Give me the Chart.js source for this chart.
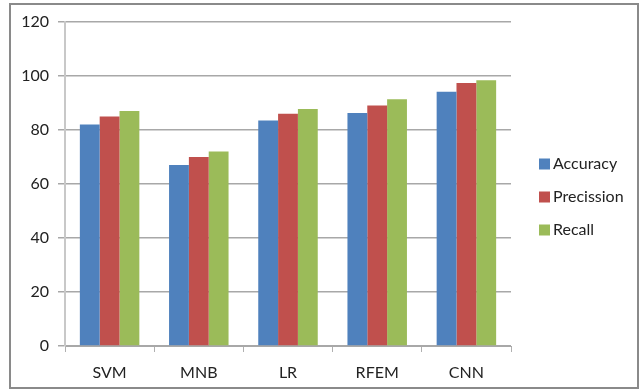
<!DOCTYPE html>
<html>
<head>
<meta charset="utf-8">
<script src="https://cdn.jsdelivr.net/npm/chart.js@4/dist/chart.umd.min.js"></script>
<style>
  html, body { margin: 0; padding: 0; background: #fff; }
  #wrap { width: 642px; height: 391px; position: relative; }
</style>
</head>
<body>
<div id="wrap"><canvas id="c" width="642" height="391"></canvas></div>
<script>
// Classifier comparison: accuracy, precision and recall (%)
const categories = ['SVM', 'MNB', 'LR', 'RFEM', 'CNN'];
const accuracy   = [82, 67, 83.5, 86.3, 94.2];
const precission = [85, 70, 86, 89.1, 97.4];
const recall     = [87, 72, 87.8, 91.4, 98.4];
const seriesNames = ['Accuracy', 'Precission', 'Recall'];
const yTicks = [0, 20, 40, 60, 80, 100, 120];

const colors = ['#4F81BD', '#C0504D', '#9BBB59'];
const FONT = 'Lato, "Open Sans", sans-serif';
const TEXT = '#222';

// Outer frame around the whole chart
const framePlugin = {
  id: 'frame',
  beforeDraw(chart) {
    const ctx = chart.ctx;
    ctx.save();
    ctx.fillStyle = '#fff';
    ctx.fillRect(0, 0, chart.width, chart.height);
    ctx.strokeStyle = '#8a8a8a';
    ctx.lineWidth = 2;
    ctx.strokeRect(10, 4, 628, 384);
    ctx.restore();
  }
};

// Legend drawn to the right of the plot area
const sideLegend = {
  id: 'sideLegend',
  afterDraw(chart) {
    const ctx = chart.ctx;
    ctx.save();
    ctx.font = '16px ' + FONT;
    ctx.textBaseline = 'middle';
    ctx.textAlign = 'left';
    const x = 539, y0 = 164, step = 33;
    chart.data.datasets.forEach((ds, i) => {
      const y = y0 + i * step;
      ctx.fillStyle = ds.backgroundColor;
      ctx.fillRect(x, y - 5.5, 11, 11);
      ctx.fillStyle = TEXT;
      ctx.fillText(ds.label, x + 14, y);
    });
    ctx.restore();
  }
};

new Chart(document.getElementById('c'), {
  type: 'bar',
  data: {
    labels: categories,
    datasets: [
      { label: seriesNames[0], data: accuracy,   backgroundColor: colors[0] },
      { label: seriesNames[1], data: precission, backgroundColor: colors[1] },
      { label: seriesNames[2], data: recall,     backgroundColor: colors[2] }
    ]
  },
  options: {
    responsive: false,
    animation: false,
    devicePixelRatio: 1,
    layout: { padding: { left: 0, right: 131, top: 22, bottom: 0 } },
    datasets: { bar: { categoryPercentage: 0.667, barPercentage: 1.0 } },
    plugins: {
      legend: { display: false },
      tooltip: { enabled: false }
    },
    scales: {
      x: {
        grid: {
          offset: true,
          drawOnChartArea: false,
          drawTicks: true,
          tickLength: 6,
          color: '#b0b0b0',
          lineWidth: 1
        },
        border: { color: '#a8a8a8', width: 1 },
        ticks: { color: TEXT, font: { family: FONT, size: 16 }, padding: 11 },
        afterFit(s) { s.height = 45; }
      },
      y: {
        min: 0,
        max: 120,
        afterBuildTicks(s) { s.ticks = yTicks.map(v => ({ value: v })); },
        grid: {
          color: '#a8a8a8',
          lineWidth: 1.5,
          tickLength: 7
        },
        border: { color: '#c8c8c8', width: 2 },
        ticks: { color: TEXT, font: { family: FONT, size: 16 }, padding: 9 },
        afterFit(s) { s.width = 65; }
      }
    }
  },
  plugins: [framePlugin, sideLegend]
});
</script>
</body>
</html>
